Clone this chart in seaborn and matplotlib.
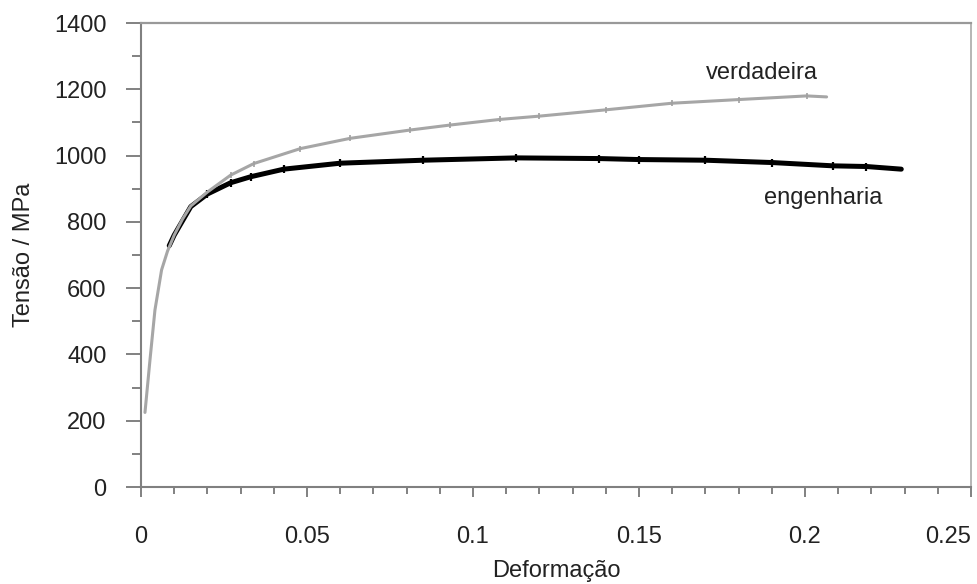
import matplotlib
matplotlib.use("Agg")
import matplotlib.pyplot as plt
import seaborn as sns
import pandas as pd
from matplotlib.ticker import MultipleLocator, FixedLocator

# ---- data ----
true_strain = [0.0012, 0.0027, 0.0042, 0.0062, 0.0080, 0.0100, 0.0125, 0.0150,
               0.0200, 0.0270, 0.0340, 0.0480, 0.0630, 0.0810, 0.0930, 0.1080,
               0.1200, 0.1400, 0.1600, 0.1800, 0.2005, 0.2065]
true_stress = [225, 383, 534, 655, 712, 760, 808, 848,
               890, 941, 976, 1021, 1052, 1077, 1092, 1109,
               1119, 1138, 1158, 1169, 1180, 1177]

eng_strain = [0.0085, 0.0100, 0.0150, 0.0200, 0.0270, 0.0330, 0.0430, 0.0600,
              0.0850, 0.1130, 0.1380, 0.1500, 0.1700, 0.1900, 0.2085, 0.2185,
              0.2290]
eng_stress = [728, 760, 846, 884, 918, 936, 959, 977,
              986, 993, 991, 988, 986, 979, 969, 967,
              959]

x_ticks = [0, 0.05, 0.1, 0.15, 0.2, 0.25]
x_tick_labels = ["0", "0.05", "0.1", "0.15", "0.2", "0.25"]
y_ticks = [0, 200, 400, 600, 800, 1000, 1200, 1400]
y_tick_labels = ["0", "200", "400", "600", "800", "1000", "1200", "1400"]

x_label = "Deformação"
y_label = "Tensão / MPa"
label_true = "verdadeira"
label_eng = "engenharia"

# ---- style ----
sns.set_style("white")
plt.rcParams["font.family"] = ["Liberation Sans", "DejaVu Sans"]
text_color = "#222222"

df_true = pd.DataFrame({"x": true_strain, "y": true_stress})
df_eng = pd.DataFrame({"x": eng_strain, "y": eng_stress})

fig = plt.figure(figsize=(9.78, 5.84), dpi=100)
ax = fig.add_axes([141 / 978, 1 - 487 / 584, 830 / 978, 464 / 584])

sns.lineplot(data=df_eng, x="x", y="y", ax=ax, sort=False, estimator=None,
             color="black", linewidth=3.6, marker="|", markersize=6,
             markeredgewidth=1.6, markeredgecolor="black",
             markevery=list(range(3, len(eng_strain) - 1)),
             solid_capstyle="round")
sns.lineplot(data=df_true, x="x", y="y", ax=ax, sort=False, estimator=None,
             color="#a6a6a6", linewidth=2.2, marker="|", markersize=5,
             markeredgewidth=1.2, markeredgecolor="#a0a0a0",
             markevery=list(range(9, len(true_strain) - 1)))

ax.set_xlim(0, 0.25)
ax.set_ylim(0, 1400)

ax.xaxis.set_major_locator(FixedLocator(x_ticks))
ax.xaxis.set_minor_locator(MultipleLocator(0.01))
ax.yaxis.set_major_locator(FixedLocator(y_ticks))
ax.yaxis.set_minor_locator(MultipleLocator(100))
ax.set_xticklabels(x_tick_labels)
ax.set_yticklabels(y_tick_labels)

ax.tick_params(axis="both", which="both", direction="out", colors="#777777",
               labelcolor=text_color, labelsize=17, width=1.3,
               bottom=True, left=True, top=False, right=False)
ax.tick_params(axis="y", which="major", length=10.8, pad=14)
ax.tick_params(axis="y", which="minor", length=6.5)
ax.tick_params(axis="x", which="major", length=7.2, pad=21)
ax.tick_params(axis="x", which="minor", length=5)

# last x label kept inside the image
xl = ax.get_xticklabels()
xl[-1].set_horizontalalignment("right")

for side, col, lw in [("left", "#808080", 1.5), ("bottom", "#808080", 1.5),
                      ("top", "#999999", 1.6), ("right", "#b5b5b5", 1.4)]:
    ax.spines[side].set_visible(True)
    ax.spines[side].set_color(col)
    ax.spines[side].set_linewidth(lw)

ax.set_xlabel(x_label, fontsize=17, color=text_color)
ax.set_ylabel(y_label, fontsize=17, color=text_color)
ax.xaxis.set_label_coords(0.5, -0.158)
ax.yaxis.set_label_coords(-0.128, 0.5)

ax.text(0.187, 1249, label_true, fontsize=17, color=text_color,
        ha="center", va="center")
ax.text(0.2054, 872, label_eng, fontsize=17, color=text_color,
        ha="center", va="center")

fig.savefig("out.png", dpi=100)
